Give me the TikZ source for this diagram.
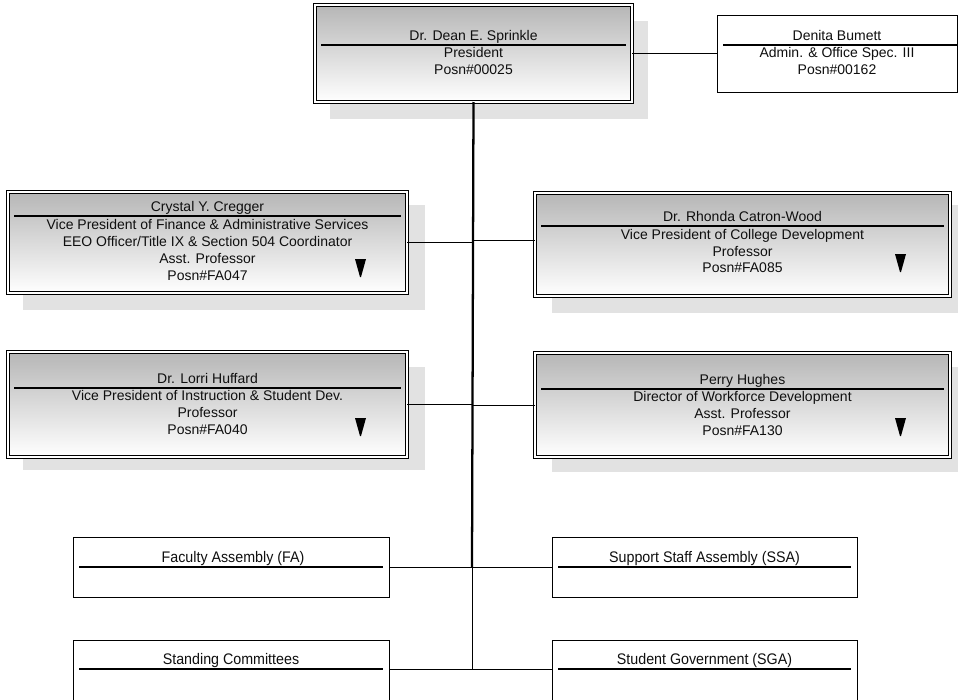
\documentclass[tikz,border=0pt]{standalone}
\usepackage{fontspec}
\setmainfont{Liberation Sans}
\newfontfamily\narrowfont[FakeStretch=0.93]{Liberation Sans}
\usetikzlibrary{fit}
\definecolor{shadowgray}{RGB}{226,226,226}
\definecolor{topgray}{RGB}{182,182,182}
\definecolor{txt}{RGB}{15,15,15}
\tikzset{
  x=0.75pt, y=-0.75pt,
  bigbox/.style={draw=black, line width=0.65pt, double=white, double distance=1.5pt,
    top color=topgray, bottom color=white, inner sep=0pt, outer sep=0pt},
  smallbox/.style={draw=black, line width=0.75pt, fill=white, inner sep=0pt, outer sep=0pt},
  shadowbox/.style={fill=shadowgray},
  txtnode/.style={inner sep=0pt, anchor=base, text=txt, font=\fontsize{10.5}{12}\selectfont},
  asmtxt/.style={inner sep=0pt, anchor=base, text=txt, font=\narrowfont\fontsize{11.5}{13}\selectfont},
  sepline/.style={draw=black, line width=0.8pt},
  conn/.style={draw=black, line width=0.75pt},
  trunk/.style={draw=black, line width=1.7pt},
  tri/.style={fill=black},
}
\begin{document}
\begin{tikzpicture}
\clip (0,0) rectangle (958,700);
\fill[white] (0,0) rectangle (958,700);

% shadows
\fill[shadowbox] (330,21) rectangle (648,119);
\fill[shadowbox] (23,205) rectangle (425,310);
\fill[shadowbox] (552,205) rectangle (960,313);
\fill[shadowbox] (23,367) rectangle (425,470);
\fill[shadowbox] (552,367) rectangle (960,472);

% connector coordinates
\coordinate (j1) at (472,567);
\coordinate (j2) at (472,669);
\coordinate (rj) at (472,240);

% President
\node[bigbox, fit={(315,5)(632,102)}] (pres) {};
\draw[sepline] (321,45) -- (626,45);
\node[txtnode] (presn) at (473.5,40) {Dr. Dean E. Sprinkle};
\node[txtnode] (presr) at (473.5,57.5) {President};
\node[txtnode] (presp) at (473.5,74.5) {Posn\#00025};

% Denita
\node[smallbox, fit={(717,15)(957,92)}] (den) {};
\draw[sepline] (723,45) -- (957,45);
\node[txtnode] (denn) at (837,40) {Denita Bumett};
\node[txtnode] (denr) at (837,57.5) {Admin. \& Office Spec. III};
\node[txtnode] (denp) at (837,74) {Posn\#00162};

% Crystal
\node[bigbox, fit={(8,192)(407,293)}] (cry) {};
\draw[sepline] (14,216) -- (401,216);
\node[txtnode] (cryn) at (207.5,211) {Crystal Y. Cregger};
\node[txtnode] (cry1) at (207.5,229) {Vice President of Finance \& Administrative Services};
\node[txtnode] (cry2) at (207.5,246.5) {EEO Officer/Title IX \& Section 504 Coordinator};
\node[txtnode] (cry3) at (207.5,263.5) {Asst. Professor};
\node[txtnode] (cry4) at (207.5,280) {Posn\#FA047};
\fill[tri] (355,259) -- (366,259) -- (361,277) -- (360,277) -- cycle;

% Rhonda
\node[bigbox, fit={(535,193)(950,296)}] (rho) {};
\draw[sepline] (541,226) -- (944,226);
\node[txtnode] (rhon) at (742.5,221.5) {Dr. Rhonda Catron-Wood};
\node[txtnode] (rho1) at (742.5,239) {Vice President of College Development};
\node[txtnode] (rho2) at (742.5,256) {Professor};
\node[txtnode] (rho3) at (742.5,272.5) {Posn\#FA085};
\fill[tri] (895,254) -- (906,254) -- (901,272) -- (900,272) -- cycle;

% Lorri
\node[bigbox, fit={(8,352)(407,457)}] (lor) {};
\draw[sepline] (14,388) -- (401,388);
\node[txtnode] (lorn) at (207.5,383) {Dr. Lorri Huffard};
\node[txtnode] (lor1) at (207.5,400.5) {Vice President of Instruction \& Student Dev.};
\node[txtnode] (lor2) at (207.5,417.5) {Professor};
\node[txtnode] (lor3) at (207.5,434.5) {Posn\#FA040};
\fill[tri] (355,418) -- (366,418) -- (361,436) -- (360,436) -- cycle;

% Perry
\node[bigbox, fit={(535,353)(950,457)}] (per) {};
\draw[sepline] (541,389) -- (944,389);
\node[txtnode] (pern) at (742.5,384) {Perry Hughes};
\node[txtnode] (per1) at (742.5,401.5) {Director of Workforce Development};
\node[txtnode] (per2) at (742.5,418.5) {Asst. Professor};
\node[txtnode] (per3) at (742.5,435.5) {Posn\#FA130};
\fill[tri] (895,418) -- (906,418) -- (901,436) -- (900,436) -- cycle;

% Assemblies
\node[smallbox, fit={(73,537)(389,597)}] (fa) {};
\draw[sepline] (79,567) -- (383,567);
\node[asmtxt] (fat) at (233,562) {Faculty Assembly (FA)};

\node[smallbox, fit={(552,537)(857,597)}] (ssa) {};
\draw[sepline] (558,567) -- (851,567);
\node[asmtxt] (ssat) at (704.5,562) {Support Staff Assembly (SSA)};

\node[smallbox, fit={(73,640)(389,704)}] (sc) {};
\draw[sepline] (79,669) -- (383,669);
\node[asmtxt] (sct) at (231,664) {Standing Committees};

\node[smallbox, fit={(552,640)(857,704)}] (sga) {};
\draw[sepline] (558,669) -- (851,669);
\node[asmtxt] (sgat) at (704.5,664) {Student Government (SGA)};

% connectors
\draw[conn] (pres.east) -- (den.west);
\draw[conn] (cry.east) -- (cry.east -| j1);
\draw[conn] (rho.west |- rj) -- (rj);
\draw[conn] (lor.east) -- (lor.east -| j1);
\draw[conn] (per.west) -- (per.west -| j1);
\draw[conn] (fa.east) -- (ssa.west);
\draw[conn] (j1) -- (j2);
\draw[conn] (sc.east |- j2) -- (sga.west |- j2);
\draw[trunk] (pres.south) -- (j1);
\end{tikzpicture}
\end{document}
